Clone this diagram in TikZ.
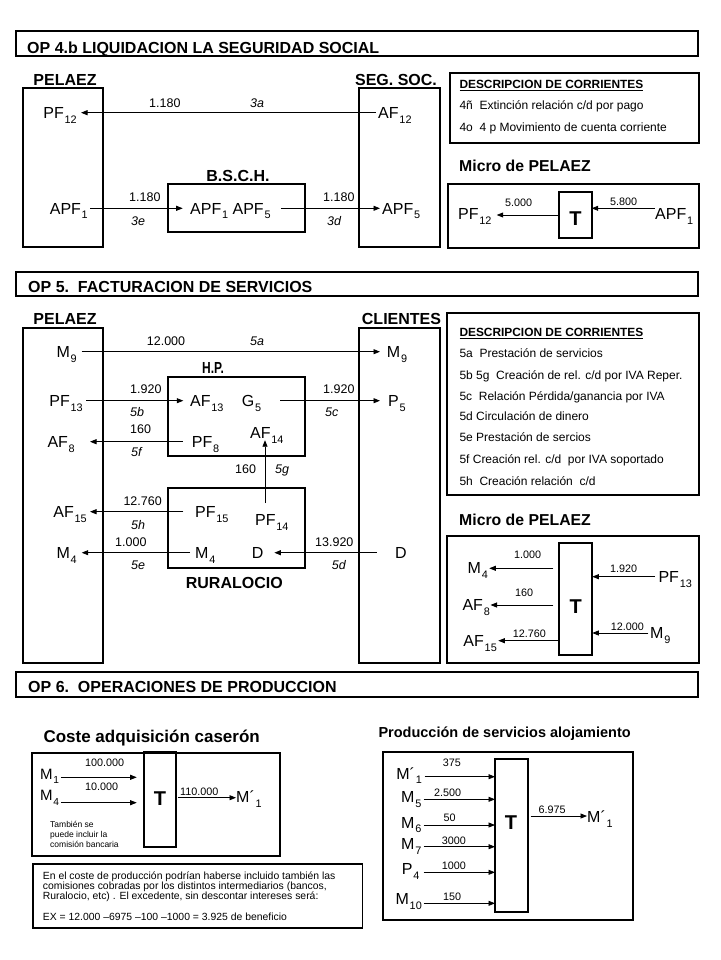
\documentclass[tikz,border=0pt]{standalone}
\usepackage{fontspec}
\setmainfont{Liberation Sans}
\usepackage{graphicx}
\usetikzlibrary{arrows.meta,calc}
\newcommand\fsz[1]{\fontsize{#1}{#1}\selectfont}
\newcommand\ssub[1]{\kern0.8pt\raisebox{-0.3em}{\scalebox{0.68}{#1}}}
\newcommand\boxat[5]{\node[bx, anchor=north west, minimum width=#4pt, minimum height=#5pt] (#1) at (#2,#3) {};}
\tikzset{
  bx/.style={draw, line width=1.8pt, inner sep=0pt, outer sep=0pt},
  arr/.style={-{Triangle[length=6.5pt,width=5pt]}, line width=0.8pt},
  var/.style={font=\fsz{16}, inner sep=0pt, text height=11.5pt, text depth=0pt},
  num/.style={font=\fsz{12.5}, inner sep=0pt, anchor=base west},
  lab/.style={font=\fsz{12.5}\itshape, inner sep=0pt, anchor=base west},
  mnum/.style={font=\fsz{10.8}, inner sep=0pt, anchor=base west},
  ent/.style={font=\fsz{16}\bfseries, inner sep=0pt, anchor=base},
  ttl/.style={font=\fsz{16}\bfseries, inner sep=0pt, anchor=base west},
  subt/.style={font=\fsz{15.8}\bfseries, inner sep=0pt, anchor=base west},
  dhd/.style={font=\fsz{11.9}\bfseries, inner sep=0pt, anchor=base west},
  ditem/.style={font=\fsz{12}, inner sep=0pt, anchor=base west},
  note/.style={font=\fsz{10.4}, inner sep=0pt, anchor=base west},
  tiny/.style={font=\fsz{8.5}, inner sep=0pt, anchor=base west},
  tt/.style={font=\fsz{20}\bfseries, inner sep=0pt},
}
\begin{document}
\begin{tikzpicture}[x=1pt,y=-1pt]
\useasboundingbox (0,0) rectangle (720,960);
\fill[white] (0,0) rectangle (720,960);

% ================= SECTION OP 4.b =================
\boxat{title1}{16}{31}{682}{25}
\node[ttl] (t1txt) at (27,53.3) {OP 4.b LIQUIDACION LA SEGURIDAD SOCIAL};
\node[ent] (pelAl) at (65,85.7) {PELAEZ};
\node[ent] (segAl) at (396,85.7) {SEG. SOC.};
\boxat{pelA}{23.3}{87.7}{79.4}{159.6}
\boxat{segA}{359.3}{87.7}{80.7}{159.6}
\node[ent] (bschl) at (238,182) {B.S.C.H.};
\boxat{bschA}{167.7}{184.3}{137.3}{47.4}

\node[var, anchor=east] (pf12) at (77,112.7) {PF\ssub{12}};
\node[var, anchor=west] (af12) at (378,112.7) {AF\ssub{12}};
\node[var, anchor=east] (apf1) at (88,208.3) {APF\ssub{1}};
\node[var, anchor=west] (bsin) at (190,208.3) {APF\ssub{1} APF\ssub{5}};
\node[var, anchor=west] (apf5) at (382,208.3) {APF\ssub{5}};
\draw[arr] ($(af12.west)+(-2.3,0)$) -- ($(pf12.east)+(4,0)$);
\draw[arr] ($(apf1.east)+(2,0)$) -- ($(bsin.west)+(-7.3,0)$);
\draw[arr] ($(bsin.east)+(10,0)$) -- ($(apf5.west)+(-2,0)$);
\node[num] (n3a) at (149,107.3) {1.180};
\node[lab] (l3a) at (250,107.3) {3a};
\node[num] (n3e) at (129,201.7) {1.180};
\node[lab] (l3e) at (131,225) {3e};
\node[num] (n3d) at (323,201.7) {1.180};
\node[lab] (l3d) at (327,225) {3d};

\boxat{descA}{450}{72.7}{249}{70.6}
\node[dhd] (dAh) at (459.3,88.3) {\underline{DESCRIPCION DE CORRIENTES}};
\node[ditem] (dA1) at (459.3,109.3) {4ñ\ \ Extinción relación c/d por pago};
\node[ditem] (dA2) at (459.3,131.7) {4o\ \ 4 p Movimiento de cuenta corriente};

\node[subt] (mAl) at (459,171.7) {Micro de PELAEZ};
\boxat{microA}{448.3}{184}{250.7}{64.3}
\boxat{tA}{559.3}{191.7}{32.4}{46.6}
\node[tt] (tAt) at (575.5,219) {T};
\node[var, anchor=east] (pf12m) at (491.7,214) {PF\ssub{12}};
\node[var, anchor=west] (apf1m) at (655,214) {APF\ssub{1}};
\draw[arr] (tA.west) -- ($(pf12m.east)+(5,1)$);
\draw[arr] ($(apf1m.west)+(0,-5.7)$) -- ($(tA.east |- apf1m.west)+(0,-5.7)$);
\node[mnum] (n5000) at (505,206.7) {5.000};
\node[mnum] (n5800) at (610,205.7) {5.800};

% ================= SECTION OP 5 =================
\boxat{title2}{16}{271.7}{682}{24.5}
\node[ttl] (t2txt) at (28,292.7) {OP 5.\ \ FACTURACION DE SERVICIOS};
\node[ent] (pelBl) at (65,324) {PELAEZ};
\node[ent] (cliBl) at (401.5,324) {CLIENTES};
\boxat{pelB}{23.3}{328.3}{79.4}{335}
\boxat{cliB}{359.3}{328.3}{80.7}{335}
\node[ent] (hpl) at (213,373.3) {\scalebox{0.75}[1]{H.P.}};
\boxat{hpB}{167.7}{376.7}{137.3}{79}
\boxat{rurB}{167.7}{487.7}{137.3}{80}
\node[ent] (rurl) at (234.3,588.3) {RURALOCIO};

\node[var, anchor=east] (m9L) at (77,351.7) {M\ssub{9}};
\node[var, anchor=west] (m9R) at (386.7,351.7) {M\ssub{9}};
\draw[arr] ($(m9L.east)+(4.7,0)$) -- ($(m9R.west)+(-6.7,0)$);
\node[num] (n12000) at (146.7,345) {12.000};
\node[lab] (l5a) at (250,345) {5a};

\node[var, anchor=east] (pf13L) at (83,400.7) {PF\ssub{13}};
\node[var, anchor=west] (af13) at (190,400.7) {AF\ssub{13}};
\node[var, anchor=west] (g5) at (241.7,400.7) {G\ssub{5}};
\node[var, anchor=west] (p5) at (388,400.7) {P\ssub{5}};
\draw[arr] ($(pf13L.east)+(3,0)$) -- ($(af13.west)+(-6.7,0)$);
\draw[arr] ($(g5.east)+(19,0)$) -- ($(p5.west)+(-8,0)$);
\node[num] (n1920a) at (130,393.3) {1.920};
\node[lab] (l5b) at (130,416) {5b};
\node[num] (n1920b) at (323,393.3) {1.920};
\node[lab] (l5c) at (325,416) {5c};

\node[num] (n160a) at (130,433.3) {160};
\node[var, anchor=east] (af8L) at (75,441.7) {AF\ssub{8}};
\node[var, anchor=west] (pf8) at (191.7,441.7) {PF\ssub{8}};
\draw[arr] ($(pf8.west)+(-9,0)$) -- ($(af8L.east)+(15,0)$);
\node[lab] (l5f) at (131,456.7) {5f};
\node[var, anchor=west] (af14) at (250,432.5) {AF\ssub{14}};

\node[var, anchor=west] (pf14) at (255,520) {PF\ssub{14}};
\draw[arr] ($(pf14.north west)+(10,-11)$) -- ($(af14.south west)+(15,1.75)$);
\node[num] (n160b) at (235,473.3) {160};
\node[lab] (l5g) at (275,473.3) {5g};

\node[var, anchor=east] (af15L) at (87,511.7) {AF\ssub{15}};
\node[var, anchor=west] (pf15) at (195,511.7) {PF\ssub{15}};
\draw[arr] ($(pf15.west)+(-11.7,0)$) -- ($(af15L.east)+(3,0)$);
\node[num] (n12760) at (123.3,505.7) {12.760};
\node[lab] (l5h) at (131,529.3) {5h};

\node[var, anchor=east] (m4L) at (77,552.7) {M\ssub{4}};
\node[var, anchor=west] (m4in) at (195,552.7) {M\ssub{4}};
\node[var, anchor=west] (din) at (251.7,552.7) {D};
\node[var, anchor=west] (dR) at (395,552.7) {D};
\draw[arr] ($(m4in.west)+(-5,0)$) -- ($(m4L.east)+(4.7,0)$);
\draw[arr] ($(dR.west)+(-18.3,0)$) -- ($(din.east)+(10.7,0)$);
\node[num] (n1000) at (115,546) {1.000};
\node[lab] (l5e) at (131,569.3) {5e};
\node[num] (n13920) at (315,546) {13.920};
\node[lab] (l5d) at (331.7,569.3) {5d};

\boxat{descB}{447.3}{312.7}{252}{182}
\node[dhd] (dBh) at (459.3,336.7) {\underline{DESCRIPCION DE CORRIENTES}};
\node[ditem] (dB1) at (459.3,357.3) {5a\ \ Prestación de servicios};
\node[ditem] (dB2) at (459.3,379.3) {5b 5g\ \ Creación de rel. c/d por IVA Reper.};
\node[ditem] (dB3) at (459.3,400) {5c\ \ Relación Pérdida/ganancia por IVA};
\node[ditem] (dB4) at (459.3,420.7) {5d Circulación de dinero};
\node[ditem] (dB5) at (459.3,441.7) {5e Prestación de sercios};
\node[ditem] (dB6) at (459.3,463.3) {5f Creación rel. c/d\ \ por IVA soportado};
\node[ditem] (dB7) at (459.3,485) {5h\ \ Creación relación\ \ c/d};

\node[subt] (mBl) at (459,525) {Micro de PELAEZ};
\boxat{microB}{447.3}{536}{251.7}{127.3}
\boxat{tB}{559.3}{543.3}{33}{111.7}
\node[tt] (tBt) at (575.8,606.7) {T};
\node[var, anchor=east] (m4m) at (488,567.5) {M\ssub{4}};
\node[var, anchor=east] (af8m) at (490,605) {AF\ssub{8}};
\node[var, anchor=east] (af15m) at (497,640.7) {AF\ssub{15}};
\node[var, anchor=west] (pf13m) at (658.3,576.7) {PF\ssub{13}};
\node[var, anchor=west] (m9m) at (650,633) {M\ssub{9}};
\draw[arr] ($(tB.west |- m4m.east)+(-6,0.8)$) -- ($(m4m.east)+(1.3,0.8)$);
\draw[arr] ($(tB.west |- af8m.east)+(-6,0)$) -- ($(af8m.east)+(0.5,0)$);
\draw[arr] (tB.west |- af15m.east) -- ($(af15m.east)+(1.3,0)$);
\draw[arr] ($(pf13m.west)+(-3.3,0)$) -- (tB.east |- pf13m.west);
\draw[arr] ($(m9m.west)+(-1.7,0)$) -- (tB.east |- m9m.west);
\node[mnum] (nm1000) at (514,558.3) {1.000};
\node[mnum] (nm160) at (515,596.7) {160};
\node[mnum] (nm12760) at (512.7,637.3) {12.760};
\node[mnum] (nm1920) at (610,572.7) {1.920};
\node[mnum] (nm12000) at (610.7,630) {12.000};

% ================= SECTION OP 6 =================
\boxat{title3}{16}{671.7}{682}{25}
\node[ttl] (t3txt) at (28,692.7) {OP 6.\ \ OPERACIONES DE PRODUCCION};

\node[font=\fsz{17}\bfseries, inner sep=0pt, anchor=base west] (casl) at (43.3,742.7) {Coste adquisición caserón};
\boxat{casB}{31.7}{753.3}{248.3}{102.4}
\boxat{tC}{144}{751.7}{32}{95.6}
\node[tt] (tCt) at (160,798.3) {T};
\node[var, anchor=west, font=\fsz{15}] (m1) at (40,773.3) {M\ssub{1}};
\node[var, anchor=west, font=\fsz{15}] (m4c) at (40,795) {M\ssub{4}};
\draw[arr] ($(m1.east)+(1.5,4)$) -- ($(tC.west |- m1.east)+(-7.3,4)$);
\draw[arr] ($(m4c.east)+(1.5,7.7)$) -- ($(tC.west |- m4c.east)+(-7.3,7.7)$);
\node[mnum] (n100000) at (85,766.7) {100.000};
\node[mnum] (n10000) at (85,790.7) {10.000};
\node[var, anchor=west] (mp1) at (236,797) {M´\ssub{1}};
\draw[arr] ($(tC.east |- mp1.west)+(2,0.7)$) -- ($(mp1.west)+(0,0.7)$);
\node[mnum] (n110000) at (180,795) {110.000};
\node[tiny] (tam1) at (50,827.5) {También se};
\node[tiny] (tam2) at (50,837.5) {puede incluir la};
\node[tiny] (tam3) at (50,847.5) {comisión bancaria};

\node[draw, line width=1.2pt, inner sep=0pt, anchor=north west, minimum width=329.4pt, minimum height=64pt] (noteB) at (32.3,863.3) {};
\node[note] (nt1) at (42.7,879) {En el coste de producción podrían haberse incluido también las};
\node[note] (nt2) at (42.7,889) {comisiones cobradas por los distintos intermediarios (bancos,};
\node[note] (nt3) at (42.7,899.5) {Ruralocio, etc) . El excedente, sin descontar intereses será:};
\node[note] (nt4) at (42.7,920) {EX = 12.000 –6975 –100 –1000 = 3.925 de beneficio};

\node[font=\fsz{14.5}\bfseries, inner sep=0pt, anchor=base west] (prodl) at (378.3,737.3) {Producción de servicios alojamiento};
\boxat{prodB}{383.3}{751.7}{249.4}{168.3}
\boxat{tD}{495}{759.3}{32.7}{152.7}
\node[tt] (tDt) at (511,822.5) {T};
\node[var, anchor=east] (pa1) at (422,773.3) {M´\ssub{1}};
\node[var, anchor=east] (pa5) at (421.5,796.7) {M\ssub{5}};
\node[var, anchor=east] (pa6) at (421.5,822.3) {M\ssub{6}};
\node[var, anchor=east] (pa7) at (421.5,844) {M\ssub{7}};
\node[var, anchor=east] (pp4) at (419.5,869) {P\ssub{4}};
\node[var, anchor=east] (pa10) at (422,899) {M\ssub{10}};
\draw[arr] ($(pa1.east)+(2.5,3.4)$) -- ($(tD.west |- pa1.east)+(0,3.4)$);
\draw[arr] ($(pa5.east)+(2,2.6)$) -- ($(tD.west |- pa5.east)+(0,2.6)$);
\draw[arr] ($(pa6.east)+(2,2.7)$) -- ($(tD.west |- pa6.east)+(0,2.7)$);
\draw[arr] ($(pa7.east)+(2,2.7)$) -- ($(tD.west |- pa7.east)+(0,2.7)$);
\draw[arr] ($(pp4.east)+(4,3.3)$) -- ($(tD.west |- pp4.east)+(0,3.3)$);
\draw[arr] ($(pa10.east)+(1.5,4.3)$) -- ($(tD.west |- pa10.east)+(0,4.3)$);
\node[mnum] (n375) at (442.7,766) {375};
\node[mnum] (n2500) at (434,796) {2.500};
\node[mnum] (n50) at (443.3,821.7) {50};
\node[mnum] (n3000) at (441.7,844) {3000};
\node[mnum] (n1000b) at (441.7,869.3) {1000};
\node[mnum] (n150) at (443,900) {150};
\node[var, anchor=west] (pb1) at (587,816.7) {M´\ssub{1}};
\draw[arr] ($(tD.east |- pb1.west)+(3,-0.7)$) -- ($(pb1.west)+(0,-0.7)$);
\node[mnum] (n6975) at (538.3,813.3) {6.975};
\end{tikzpicture}
\end{document}
